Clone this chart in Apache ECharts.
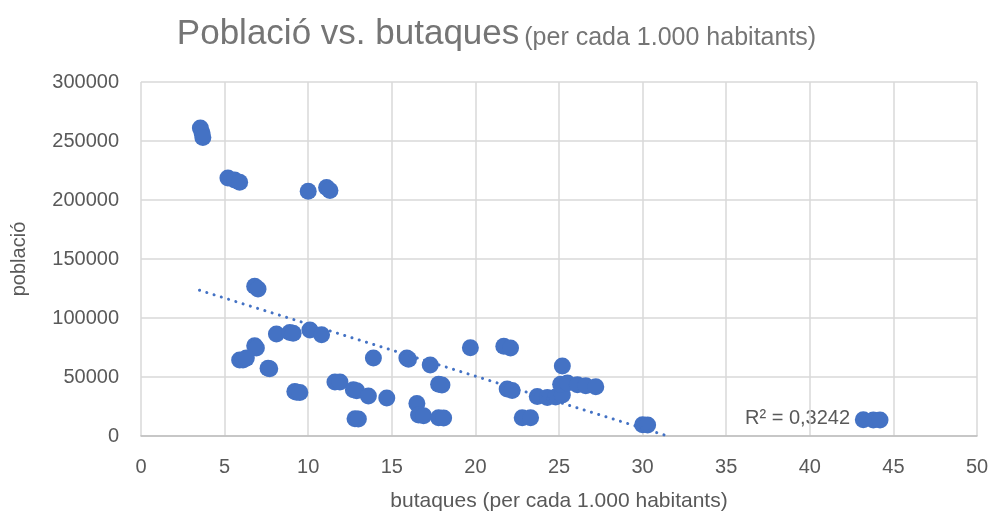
<!DOCTYPE html>
<html>
<head>
<meta charset="utf-8">
<script src="https://cdn.jsdelivr.net/npm/echarts@6/dist/echarts.min.js"></script>
<style>
  html, body { margin: 0; padding: 0; background: #fff; }
  #main { width: 993px; height: 519px; }
</style>
</head>
<body>
<div id="main"></div>
<script>
// butaques per cada 1.000 habitants
var butaques = [
  3.55, 3.65, 3.7, 5.2, 5.6, 5.9, 10.0, 11.1, 11.3,
  6.8, 7.0, 8.1, 8.9, 9.1, 10.1, 10.8,
  6.8, 6.9, 5.9, 6.1, 6.3, 7.6, 7.7,
  9.2, 9.3, 9.5, 11.6, 11.9, 12.7, 12.9, 13.6, 13.9, 14.7, 12.8, 13.0,
  15.9, 16.0, 17.3, 17.8, 18.0, 16.5, 16.6, 16.9, 17.8, 18.1,
  19.7, 21.7, 22.1, 25.2, 21.9, 22.2,
  23.7, 24.3, 24.8, 25.2, 25.1, 25.5, 26.1, 26.6, 27.2,
  22.8, 23.3, 30.0, 30.3, 43.2, 43.8, 44.2
];
// població
var poblacio = [
  261000, 257000, 253000, 218600, 217000, 215000, 207500, 210500, 208000,
  127000, 124500, 86400, 87800, 87000, 89800, 85800,
  76500, 74600, 64500, 64400, 66000, 57500, 57000,
  37800, 37000, 36800, 45800, 45800, 39200, 38400, 33900, 66100, 32200, 14600, 14400,
  66100, 65000, 60200, 43800, 43200, 27500, 17800, 17200, 15500, 15300,
  74800, 76000, 74600, 59300, 39800, 38600,
  33400, 32600, 33100, 34700, 43800, 44900, 43400, 42600, 41700,
  15500, 15400, 9500, 9300, 13800, 13600, 13600
];
// línia de tendència (llegida del gràfic)
var tendenciaX = [3.5, 31.5];
var tendenciaY = [123500, 0];
var r2Text = 'R² = 0,3242';

var punts = butaques.map(function (x, i) { return [x, poblacio[i]]; });
var tendencia = tendenciaX.map(function (x, i) { return [x, tendenciaY[i]]; });

var chart = echarts.init(document.getElementById('main'));
var font = 'Liberation Sans';
var gris = '#595959';

chart.setOption({
  backgroundColor: '#ffffff',
  animation: false,
  title: {
    text: '{a|Població vs. butaques} {b|(per cada 1.000 habitants)}',
    left: 'center',
    top: 12,
    textStyle: {
      fontWeight: 'normal',
      rich: {
        a: { fontFamily: font, fontSize: 35, fontWeight: 'normal', color: '#757575' },
        b: { fontFamily: font, fontSize: 25, fontWeight: 'normal', color: '#757575', padding: [8, 0, 0, 0] }
      }
    }
  },
  grid: { left: 141, right: 16, top: 82, bottom: 83, containLabel: false },
  xAxis: {
    type: 'value',
    min: 0, max: 50, interval: 5,
    name: 'butaques (per cada 1.000 habitants)',
    nameLocation: 'middle',
    nameGap: 55,
    nameTextStyle: { fontFamily: font, fontSize: 21, color: gris },
    axisLine: { show: true, lineStyle: { color: '#bfbfbf', width: 1.5 } },
    axisTick: { show: false },
    axisLabel: { fontFamily: font, fontSize: 20, color: gris, margin: 21 },
    splitLine: { show: true, lineStyle: { color: '#d9d9d9', width: 1.5 } }
  },
  yAxis: {
    type: 'value',
    min: 0, max: 300000, interval: 50000,
    name: 'població',
    nameLocation: 'middle',
    nameGap: 112,
    nameTextStyle: { fontFamily: font, fontSize: 20, color: gris },
    axisLine: { show: false },
    axisTick: { show: false },
    axisLabel: {
      fontFamily: font, fontSize: 20, color: gris, margin: 22,
      formatter: function (v) { return String(v); }
    },
    splitLine: { show: true, lineStyle: { color: '#d9d9d9', width: 1.5 } }
  },
  series: [
    {
      type: 'scatter',
      data: punts,
      symbolSize: 17,
      itemStyle: { color: '#4472c4', opacity: 1 }
    },
    {
      type: 'line',
      data: tendencia,
      symbol: 'none',
      lineStyle: { color: '#4472c4', width: 3, type: [0.1, 7.5], cap: 'round' },
      z: 3
    }
  ],
  graphic: [
    {
      type: 'text',
      left: 745,
      top: 408,
      style: { text: r2Text, fontFamily: font, fontSize: 20, fill: gris }
    }
  ]
});
</script>
</body>
</html>
